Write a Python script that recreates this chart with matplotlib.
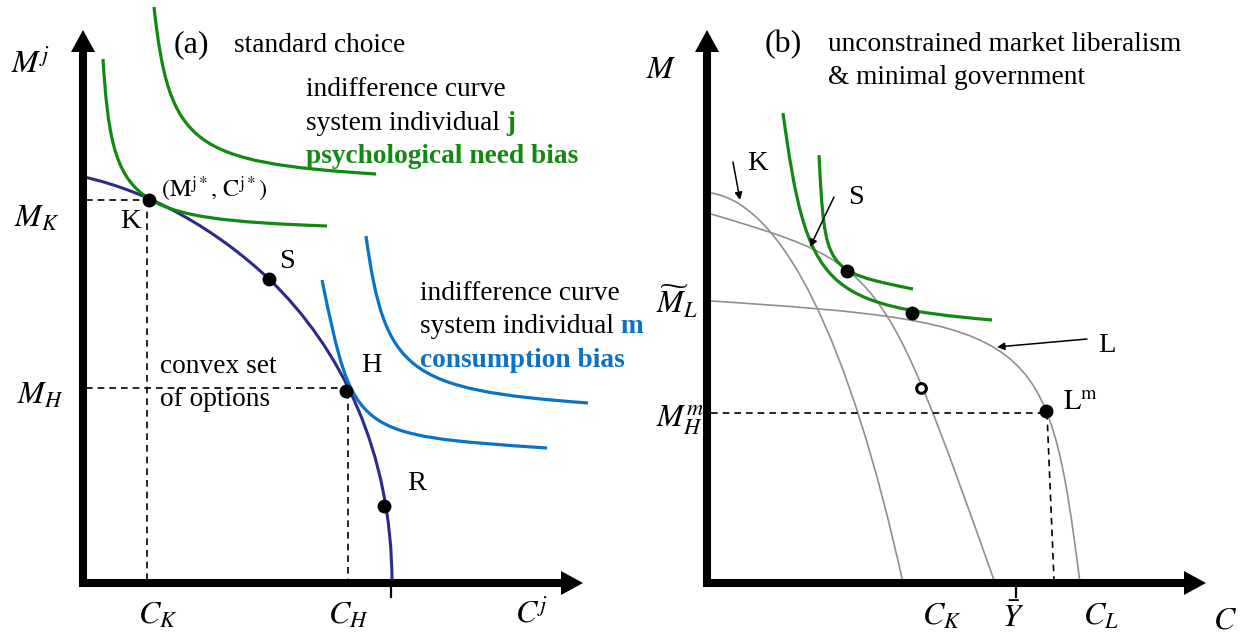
import matplotlib
matplotlib.use('Agg')
import matplotlib.pyplot as plt
from matplotlib.path import Path
import matplotlib.patches as patches

plt.rcParams['font.family'] = ['Liberation Serif', 'DejaVu Serif']
plt.rcParams['mathtext.fontset'] = 'stix'

GREEN = '#128a12'
BLUE = '#0b73c6'
NAVY = '#2d2b88'
GRAY = '#8f8f8f'

# curves (pixel coords, y down)
# frontier (a): two cubic pieces joined at S
frontier_a = [(84, 177), (152, 192), (218, 231), (269, 279), (341, 348), (392, 452), (392, 583)]
# indifference curves: start, corner of end tangents, end, tension
green_a = [((103, 59), (113, 218), (327, 226), 0.93),
           ((154, 7), (171, 161), (376, 174), 0.9)]
blue_a = [((322, 280), (354, 435), (547, 448), 1.0),
          ((366, 236), (387, 388), (588, 403), 0.9)]
gray_b = [((711, 193), (821, 210), (903, 583), 0.65),
          ((711, 214), (882, 265), (995, 583), 1.0),
          ((711, 301), (1047, 323), (1080, 583), 0.97)]
green_b = [((783, 113), (809, 304), (992, 320), 0.92),
           ((819, 155), (825, 271), (913, 289), 1.0)]

dots_a = [(149, 200), (269, 279), (346, 391), (384, 506)]
dots_b = [(847, 271), (912, 313), (1046, 411)]
hollow_b = [(921, 388)]

fig = plt.figure(figsize=(12.42, 6.4), dpi=100)
ax = fig.add_axes([0, 0, 1, 1])
ax.set_xlim(0, 1242)
ax.set_ylim(640, 0)
ax.axis('off')

FS = 19.7


def corner_curve(p0, c, p3, a):
    p1 = (p0[0] + a * (c[0] - p0[0]), p0[1] + a * (c[1] - p0[1]))
    p2 = (p3[0] + a * (c[0] - p3[0]), p3[1] + a * (c[1] - p3[1]))
    return Path([p0, p1, p2, p3], [Path.MOVETO, Path.CURVE4, Path.CURVE4, Path.CURVE4])


def draw(path, color, lw):
    ax.add_patch(patches.PathPatch(path, facecolor='none', edgecolor=color, lw=lw, capstyle='butt'))


def axis_arrow(x0, y0, x1, y1):
    # thick black axis with a filled triangular head
    L, W = 22, 12
    dx, dy = x1 - x0, y1 - y0
    n = (dx ** 2 + dy ** 2) ** 0.5
    ux, uy = dx / n, dy / n
    bx, by = x1 - L * ux, y1 - L * uy
    ax.plot([x0, bx], [y0, by], color='k', lw=5.8, solid_capstyle='butt', zorder=5)
    head = [(x1, y1), (bx - W * uy, by + W * ux), (bx + W * uy, by - W * ux)]
    ax.add_patch(patches.Polygon(head, closed=True, color='k', lw=0, zorder=5))


def dashed(xs, ys):
    ax.plot(xs, ys, color='k', lw=1.2, ls=(0, (4, 3)), zorder=2)


# ---------- panel (a) ----------
codes = [Path.MOVETO] + [Path.CURVE4] * 6
draw(Path(frontier_a, codes), NAVY, 2.2)
for p0, c, p3, a in green_a:
    draw(corner_curve(p0, c, p3, a), GREEN, 2.3)
for p0, c, p3, a in blue_a:
    draw(corner_curve(p0, c, p3, a), BLUE, 2.3)

dashed([86, 149], [200, 200])
dashed([147, 147], [200, 580])
dashed([86, 346], [388, 388])
dashed([348, 348], [392, 580])

axis_arrow(83, 587, 83, 30)
axis_arrow(79, 583, 583, 583)
ax.plot([391, 391], [585, 597], color='k', lw=1.6)

for x, y in dots_a:
    ax.plot(x, y, 'o', color='k', ms=9, zorder=6)

ax.text(191, 52, '(a)', fontsize=23, ha='center', va='baseline')
ax.text(234, 52, 'standard choice', fontsize=FS, va='baseline')
ax.text(306, 96, 'indifference curve', fontsize=FS, va='baseline')
t = ax.text(306, 130, 'system individual', fontsize=FS, va='baseline')
ax.annotate(' j', xy=(1, 0), xycoords=t, fontsize=FS, va='bottom', ha='left',
            color=GREEN, fontweight='bold')
ax.text(306, 163, 'psychological need bias', fontsize=FS, va='baseline',
        color=GREEN, fontweight='bold')
ax.text(420, 300, 'indifference curve', fontsize=FS, va='baseline')
t = ax.text(420, 333, 'system individual', fontsize=FS, va='baseline')
ax.annotate(' m', xy=(1, 0), xycoords=t, fontsize=FS, va='bottom', ha='left',
            color=BLUE, fontweight='bold')
ax.text(420, 367, 'consumption bias', fontsize=FS, va='baseline',
        color=BLUE, fontweight='bold')
ax.text(160, 373, 'convex set', fontsize=FS, va='baseline')
ax.text(160, 406, 'of options', fontsize=FS, va='baseline')

ax.text(214, 189, r'$\left(\mathrm{M}^{\mathrm{j}*},\,\mathrm{C}^{\mathrm{j}*}\right)$',
        fontsize=17.5, ha='center', va='center')
for s, (x, y) in zip(['K', 'S', 'H', 'R'], [(130, 222), (287, 262), (371, 366), (417, 483)]):
    ax.text(x, y, s, fontsize=20.5, ha='center', va='center')

for s, (x, y) in zip([r'$M^j$', r'$M_K$', r'$M_H$', r'$C_K$', r'$C_H$', r'$C^j$'],
                     [(30, 64), (37, 219), (40, 396), (158, 616), (348, 616), (532, 614)]):
    ax.text(x, y, s, fontsize=23, ha='center', va='center')

# ---------- panel (b) ----------
for p0, c, p3, a in gray_b:
    draw(corner_curve(p0, c, p3, a), GRAY, 1.2)
for p0, c, p3, a in green_b:
    draw(corner_curve(p0, c, p3, a), GREEN, 2.3)

dashed([711, 1046], [413, 413])
dashed([1047, 1054], [413, 580])

axis_arrow(707, 587, 707, 30)
axis_arrow(704, 583, 1206, 583)
ax.plot([1016, 1016], [585, 597], color='k', lw=1.6)

for x, y in dots_b:
    ax.plot(x, y, 'o', color='k', ms=9, zorder=6)
for x, y in hollow_b:
    ax.plot(x, y, 'o', mfc='white', mec='k', mew=2.2, ms=7, zorder=6)

arr = dict(arrowstyle='-|>', color='k', lw=1.1, mutation_scale=11, shrinkA=0, shrinkB=0)
ax.annotate('', xy=(740, 200), xytext=(733, 162), arrowprops=arr)
ax.annotate('', xy=(810, 247), xytext=(834, 197), arrowprops=arr)
ax.annotate('', xy=(997, 347), xytext=(1087, 339), arrowprops=arr)

ax.text(783, 52, '(b)', fontsize=23, ha='center', va='baseline')
ax.text(828, 51, 'unconstrained market liberalism', fontsize=FS, va='baseline')
ax.text(828, 84, '& minimal government', fontsize=FS, va='baseline')

for s, (x, y) in zip(['K', 'S', 'L'], [(757, 164), (856, 198), (1107, 345)]):
    ax.text(x, y, s, fontsize=20.5, ha='center', va='center')
ax.text(1063, 403, r'$\mathrm{L}^{\mathrm{m}}$', fontsize=20.5, ha='left', va='center')

for s, (x, y) in zip([r'$M$', r'$\widetilde{M}_L$', r'$M_H^m$', r'$C_K$', r'$\bar{Y}$', r'$C_L$', r'$C$'],
                     [(661, 70), (677, 302), (680, 420), (942, 617), (1013, 619), (1101, 617), (1225, 621)]):
    ax.text(x, y, s, fontsize=23, ha='center', va='center')

fig.savefig('out.png', dpi=100)
